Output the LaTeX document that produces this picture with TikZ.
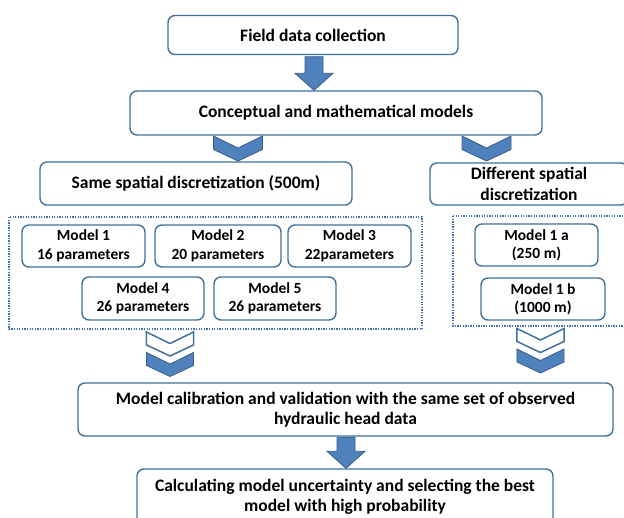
\documentclass[tikz,border=0pt]{standalone}
\usepackage{fontspec}
\setmainfont{Carlito}
\usetikzlibrary{calc}
\definecolor{boxline}{RGB}{65,113,156}
\definecolor{arrowfill}{RGB}{79,129,189}
\definecolor{arrowline}{RGB}{56,93,138}
\definecolor{dotline}{RGB}{68,114,176}
\tikzset{
  stepbox/.style={draw=boxline, line width=1.4pt, rounded corners=7pt, fill=white,
    align=center, inner sep=0pt, font=\bfseries\fontsize{17.5}{20.5}\selectfont},
  modelbox/.style={stepbox, font=\bfseries\fontsize{15.5}{18.5}\selectfont},
  dotbox/.style={draw=dotline, line width=1.3pt, dash pattern=on 1.3pt off 1.3pt},
  blockarrow/.style={fill=arrowfill, draw=arrowline, line width=0.8pt, line join=miter},
  chevblue/.style={fill=arrowfill, draw=arrowline, line width=0.8pt},
  chevwhite/.style={fill=white, draw=boxline, line width=1.5pt},
  chevron/.pic={\path[pic actions] (-24.5,0) -- (0,12) -- (24.5,0) -- (24.5,13.5) -- (0,25) -- (-24.5,13.5) -- cycle;}
}
\begin{document}
\begin{tikzpicture}[x=1pt,y=-1pt]
\clip (0,0) rectangle (624,517);
\fill[white] (0,0) rectangle (624,517);

% top boxes
\node[stepbox, minimum width=290pt, minimum height=39pt] (field) at (313,35) {Field data collection};
\node[stepbox, minimum width=412pt, minimum height=44pt] (concept) at (336,113) {Conceptual and mathematical models};
\node[stepbox, minimum width=312pt, minimum height=43pt] (same) at (196,183.5) {Same spatial discretization (500m)};
\node[stepbox, minimum width=198pt, minimum height=42pt] (diff) at (529,184) {Different spatial\\discretization};

% dotted groups
\draw[dotbox] (9,217) rectangle (422,329);
\coordinate (dotL) at (9,217);
\draw[dotbox] (453,216) rectangle (640,326);
\coordinate (dotR) at (453,216);

% models
\node[modelbox, minimum width=123pt, minimum height=42pt] (m1) at (83.5,246) {Model 1\\16 parameters};
\node[modelbox, minimum width=126pt, minimum height=42pt] (m2) at (218,246) {Model 2\\20 parameters};
\node[modelbox, minimum width=123pt, minimum height=42pt] (m3) at (349.5,246) {Model 3\\22parameters};
\node[modelbox, minimum width=122pt, minimum height=43pt] (m4) at (143,298.5) {Model 4\\26 parameters};
\node[modelbox, minimum width=122pt, minimum height=43pt] (m5) at (275,298.5) {Model 5\\26 parameters};
\node[modelbox, minimum width=123pt, minimum height=42pt] (m1a) at (536.5,245) {Model 1 a\\(250 m)};
\node[modelbox, minimum width=124pt, minimum height=42pt] (m1b) at (543,299) {Model 1 b\\(1000 m)};

% bottom boxes
\node[stepbox, minimum width=535pt, minimum height=53pt] (calib) at (345.5,409.5) {Model calibration and validation with the same set of observed\\hydraulic head data};
\node[stepbox, minimum width=416pt, minimum height=56pt] (calc) at (345,497) {Calculating model uncertainty and selecting the best\\model with high probability};

% block arrows
\coordinate (a1s) at ($(field.south)+(1,1.5)$);
\coordinate (a1e) at (a1s |- concept.north);
\path[blockarrow] ($(a1s)+(-9,0)$) -- ($(a1s)+(9,0)$) -- ($(a1e)+(9,-17)$) -- ($(a1e)+(19,-17)$) -- (a1e) -- ($(a1e)+(-19,-17)$) -- ($(a1e)+(-9,-17)$) -- cycle;

\coordinate (a2s) at ($(calib.south)+(0.5,0.5)$);
\coordinate (a2e) at (a2s |- calc.north);
\path[blockarrow] ($(a2s)+(-9,0)$) -- ($(a2s)+(9,0)$) -- ($(a2e)+(9,-17)$) -- ($(a2e)+(19,-17)$) -- (a2e) -- ($(a2e)+(-19,-17)$) -- ($(a2e)+(-9,-17)$) -- cycle;

% single chevrons under concept
\coordinate (chL) at (238,136);
\coordinate (chR) at (486.5,136);
\pic[chevblue] at (chL) {chevron};
\pic[chevblue] at (chR) {chevron};

% double chevrons
\coordinate (dcL) at (170,332);
\coordinate (dcR) at (540.5,328.5);
\pic[chevwhite, scale=0.96] at (dcL) {chevron};
\pic[chevblue, scale=0.96] at ($(dcL)+(0,20.5)$) {chevron};
\pic[chevwhite, scale=0.96] at (dcR) {chevron};
\pic[chevblue, scale=0.96] at ($(dcR)+(0,20.5)$) {chevron};
\end{tikzpicture}
\end{document}
